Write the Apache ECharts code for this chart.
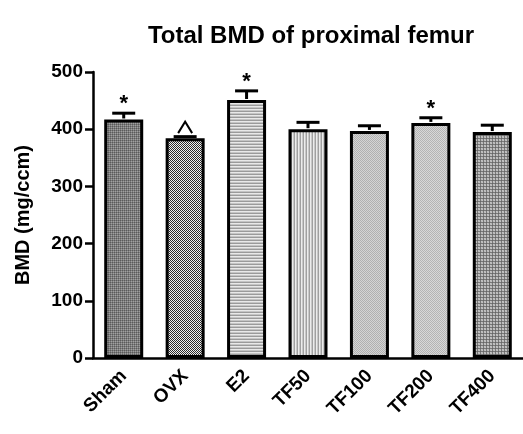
<!DOCTYPE html>
<html><head><meta charset="utf-8">
<script src="https://cdn.jsdelivr.net/npm/echarts@6/dist/echarts.min.js"></script>
<style>html,body{margin:0;padding:0;background:#fff}#c{width:523px;height:434px}</style>
</head><body><div id="c"></div>
<script>
var categories = ['Sham', 'OVX', 'E2', 'TF50', 'TF100', 'TF200', 'TF400'];
var means = [417, 384, 451, 400, 397, 411, 395];
var errors = [11, 3, 16, 12, 9, 9, 12];
var marks = ['*', '^', '*', '', '', '*', ''];
var yTicks = [0, 100, 200, 300, 400, 500];

function makePattern(rows) {
  var h = rows.length, w = rows[0].length;
  var c = document.createElement('canvas');
  c.width = w; c.height = h;
  var ctx = c.getContext('2d');
  for (var y = 0; y < h; y++) for (var x = 0; x < w; x++) {
    ctx.fillStyle = rows[y][x];
    ctx.fillRect(x, y, 1, 1);
  }
  return { image: c, repeat: 'repeat' };
}
var patterns = [
  makePattern([['#5a5a5a','#7c7c7c'],['#7c7c7c','#a0a0a0']]),
  makePattern([['#2a2a2a','#f0f0f0'],['#f0f0f0','#2a2a2a']]),
  makePattern([['#9a9a9a'],['#e8e8e8'],['#c4c4c4']]),
  makePattern([['#a0a0a0','#ececec','#c8c8c8']]),
  makePattern([['#b0b0b0','#d4d4d4'],['#d4d4d4','#b0b0b0']]),
  makePattern([['#b4b4b4','#d8d8d8'],['#d8d8d8','#b4b4b4']]),
  makePattern([['#666666','#787878','#787878'],['#787878','#c4c4c4','#b8b8b8'],['#787878','#b8b8b8','#c4c4c4']])
];

var font = 'Arial, "Liberation Sans", sans-serif';
var chart = echarts.init(document.getElementById('c'));
chart.setOption({
  animation: false,
  backgroundColor: '#fff',
  title: { text: 'Total BMD of proximal femur', left: 306, top: 19, textAlign: 'center',
    textStyle: { fontFamily: font, fontWeight: 'bold', fontSize: 24, color: '#000' } },
  grid: { left: 93, top: 72, width: 434, height: 286 },
  xAxis: {
    type: 'category', data: categories,
    axisLine: { lineStyle: { color: '#000', width: 2.5 } },
    axisTick: { alignWithLabel: true, length: 8, lineStyle: { color: '#000', width: 2.5 } },
    axisLabel: { rotate: 45, margin: 15, color: '#000', fontFamily: font, fontWeight: 'bold', fontSize: 19 }
  },
  yAxis: {
    type: 'value', min: 0, max: 500, interval: 100,
    name: 'BMD (mg/ccm)', nameLocation: 'middle', nameGap: 60, nameRotate: 90,
    nameTextStyle: { fontFamily: font, fontWeight: 'bold', fontSize: 20, color: '#000' },
    splitLine: { show: false },
    axisLine: { show: true, lineStyle: { color: '#000', width: 2.5 } },
    axisTick: { show: true, length: 8, lineStyle: { color: '#000', width: 2.5 } },
    axisLabel: { margin: 10, color: '#000', fontFamily: font, fontWeight: 'bold', fontSize: 19,
      formatter: function (v) { return yTicks.indexOf(v) >= 0 ? String(v) : ''; } }
  },
  series: [
    {
      type: 'bar', barWidth: 39,
      data: means.map(function (v, i) {
        return { value: v, itemStyle: { color: patterns[i], borderColor: '#000', borderWidth: 3 } };
      })
    },
    {
      type: 'custom',
      data: means.map(function (v, i) { return [i, v, errors[i]]; }),
      renderItem: function (params, api) {
        var i = api.value(0), m = api.value(1), e = api.value(2);
        var mk = marks[params.dataIndex];
        var top = api.coord([i, m + e]);
        var base = api.coord([i, m]);
        var children = [
          { type: 'line', shape: { x1: top[0], y1: top[1], x2: base[0], y2: base[1] - 1 },
            style: { stroke: '#000', lineWidth: 3 } },
          { type: 'line', shape: { x1: top[0] - 11.5, y1: top[1], x2: top[0] + 11.5, y2: top[1] },
            style: { stroke: '#000', lineWidth: 3 } }
        ];
        if (mk === '^') {
          children.push({ type: 'polyline',
            shape: { points: [[top[0] - 7, top[1] - 3.5], [top[0], top[1] - 15], [top[0] + 7, top[1] - 3.5]] },
            style: { stroke: '#000', lineWidth: 2, fill: null } });
        } else if (mk) {
          children.push({ type: 'text', x: top[0], y: top[1] - 9,
            style: { text: mk, fontFamily: font, fontWeight: 'bold',
              fontSize: 22, fill: '#000', align: 'center', verticalAlign: 'middle' } });
        }
        return { type: 'group', children: children };
      },
      z: 5
    }
  ]
});
</script></body></html>
